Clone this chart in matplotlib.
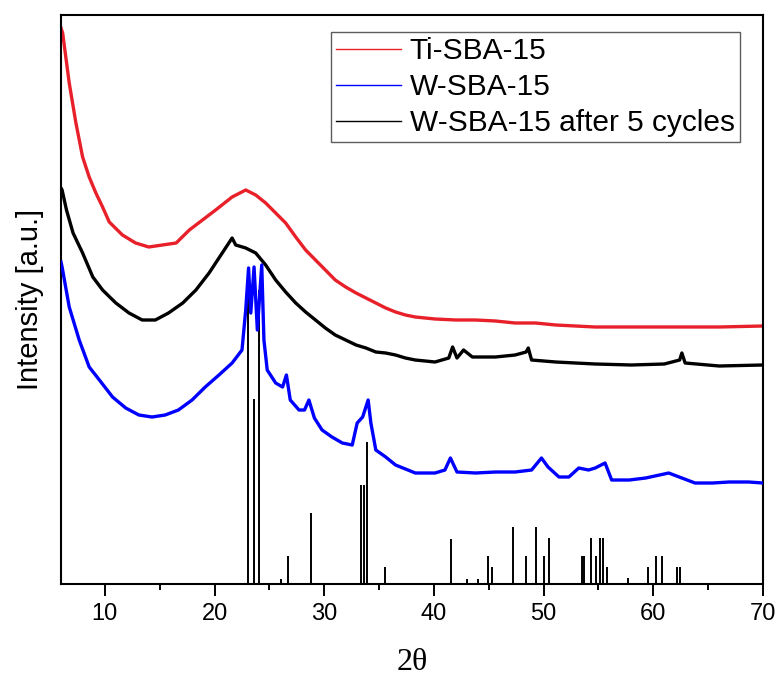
import matplotlib

matplotlib.use("Agg")
import matplotlib.pyplot as plt
from matplotlib.ticker import MultipleLocator

# --- data (intensity in arbitrary units) -----------------------------------
ti_sba_2theta = [6.0, 6.15, 6.75, 7.36, 7.97, 8.57, 9.18, 9.79, 10.4, 11.6,
                 12.8, 14.0, 15.25, 16.5, 17.7, 18.9, 20.1, 21.6, 22.84, 23.75,
                 24.66, 25.57, 26.48, 27.4, 28.3, 29.2, 30.1, 31.0, 31.95, 32.9,
                 33.8, 34.7, 35.6, 36.5, 37.4, 38.3, 40.1, 42.0, 43.8, 45.6,
                 47.4, 49.25, 51.1, 52.9, 54.7, 58.0, 62.0, 66.0, 70.0]
ti_sba_int = [556, 551, 501, 461, 427, 407, 391, 377, 362, 349,
              341, 337, 339, 341, 354, 364, 374, 387, 394, 389,
              381, 371, 361, 347, 334, 324, 314, 304, 297, 291,
              286, 281, 276, 272, 269, 267, 265, 264, 264, 263,
              261, 261, 259, 258, 257, 257, 257, 257, 258]

w_sba_2theta = [6.0, 6.1, 6.75, 7.66, 8.57, 9.5, 10.7, 11.9, 13.1, 14.3,
                15.5, 16.7, 17.95, 19.15, 20.4, 21.6, 22.5, 22.84, 23.1, 23.3,
                23.6, 23.9, 24.3, 24.5, 24.8, 25.57, 26.2, 26.55, 26.9, 27.7,
                28.2, 28.6, 29.1, 29.8, 30.7, 31.65, 32.55, 33.0, 33.5, 34.0,
                34.25, 34.7, 35.6, 36.5, 38.3, 40.1, 41.0, 41.5, 42.1, 43.8,
                45.6, 47.4, 48.9, 49.8, 50.4, 51.4, 52.3, 53.2, 54.1, 54.7,
                55.6, 56.2, 57.8, 59.3, 61.4, 62.6, 63.8, 65.4, 66.9, 68.7,
                70.0]
w_sba_int = [322, 317, 277, 244, 217, 204, 187, 176, 169, 167,
             169, 174, 184, 197, 209, 221, 234, 274, 316, 271,
             317, 254, 319, 244, 214, 201, 197, 209, 184, 174,
             174, 184, 166, 154, 147, 141, 139, 161, 167, 184,
             161, 134, 127, 119, 111, 111, 114, 126, 112, 111,
             112, 112, 114, 126, 117, 107, 107, 116, 114, 116,
             121, 104, 104, 106, 111, 106, 101, 101, 102, 102,
             101]

w_cyc_2theta = [6.0, 6.1, 6.5, 7.1, 7.97, 8.9, 9.79, 11.0, 12.2, 13.4,
                14.6, 15.8, 17.1, 18.3, 19.5, 20.7, 21.6, 21.93, 22.84, 23.75,
                24.66, 25.57, 26.48, 27.4, 28.3, 29.2, 30.1, 31.0, 31.95, 32.9,
                33.8, 34.7, 35.6, 36.5, 37.4, 38.3, 40.1, 41.35, 41.7, 42.1,
                42.7, 43.5, 45.6, 47.4, 48.4, 48.6, 48.9, 51.1, 52.9, 54.7,
                58.0, 61.0, 62.4, 62.6, 62.9, 66.0, 70.0]
w_cyc_int = [396, 394, 374, 351, 331, 307, 294, 281, 271, 264,
             264, 271, 281, 294, 311, 331, 346, 339, 336, 331,
             319, 304, 292, 281, 272, 264, 256, 249, 244, 239,
             236, 232, 231, 229, 226, 224, 222, 226, 237, 226,
             234, 227, 227, 229, 232, 236, 224, 222, 221, 220,
             219, 220, 224, 231, 221, 218, 219]

# reference stick pattern
ref_2theta = [23.09, 23.64, 24.04, 26.03, 26.66, 28.78, 33.34, 33.61, 33.93,
              35.51, 41.51, 43.05, 44.0, 44.9, 45.31, 47.2, 48.38, 49.28,
              50.07, 50.45, 53.47, 53.65, 54.3, 54.8, 55.15, 55.4, 55.8,
              57.7, 59.5, 60.25, 60.8, 62.15, 62.45]
ref_int = [294, 185, 294, 5, 28, 71, 99, 99, 142,
           17, 45, 5, 5, 28, 17, 57, 28, 57,
           28, 46, 28, 28, 46, 28, 46, 46, 17,
           6, 17, 28, 28, 17, 17]

SANS = ["Liberation Sans", "DejaVu Sans"]
SERIF = ["Liberation Serif", "DejaVu Serif"]

fig = plt.figure(figsize=(7.79, 6.75), dpi=100)
ax = fig.add_axes([0.0783, 0.1348, 0.9012, 0.8430])

ax.vlines(ref_2theta, 0, ref_int, colors="black", linewidth=1.4, zorder=1)
ax.plot(ti_sba_2theta, ti_sba_int, color="#e8202a", linewidth=2.4,
        label="Ti-SBA-15", zorder=2)
ax.plot(w_sba_2theta, w_sba_int, color="#0000ff", linewidth=2.4,
        label="W-SBA-15", zorder=3)
ax.plot(w_cyc_2theta, w_cyc_int, color="black", linewidth=2.4,
        label="W-SBA-15 after 5 cycles", zorder=2)

ax.set_xlim(6, 70)
ax.set_ylim(0, 569)
ax.xaxis.set_major_locator(MultipleLocator(10))
ax.xaxis.set_minor_locator(MultipleLocator(5))
ax.tick_params(axis="x", which="major", direction="out", length=8.5,
               width=1.4, pad=5, labelsize=17)
ax.tick_params(axis="x", which="minor", direction="out", length=4.5,
               width=1.4)
ax.set_yticks([])
for lbl in ax.get_xticklabels():
    lbl.set_family(SANS)
for side in ax.spines.values():
    side.set_linewidth(1.5)

ax.set_ylabel("Intensity [a.u.]", family=SANS, fontsize=21, labelpad=12)
# x label placed in figure coordinates so it sits low like the original
fig.text(0.529, 1 - 662 / 675, "2θ", family=SERIF, fontsize=23,
         ha="center", va="center")

leg = ax.legend(loc="upper right", bbox_to_anchor=(0.967, 0.970),
                borderaxespad=0, fancybox=False, frameon=True,
                prop={"family": SANS, "size": 21.5}, handlelength=2.17,
                handletextpad=0.3, labelspacing=0.27, borderpad=0.17)
leg.get_frame().set_edgecolor("#333333")
leg.get_frame().set_linewidth(1.0)
for h in leg.get_lines():
    h.set_linewidth(1.0)

fig.savefig("out.png", dpi=100)
